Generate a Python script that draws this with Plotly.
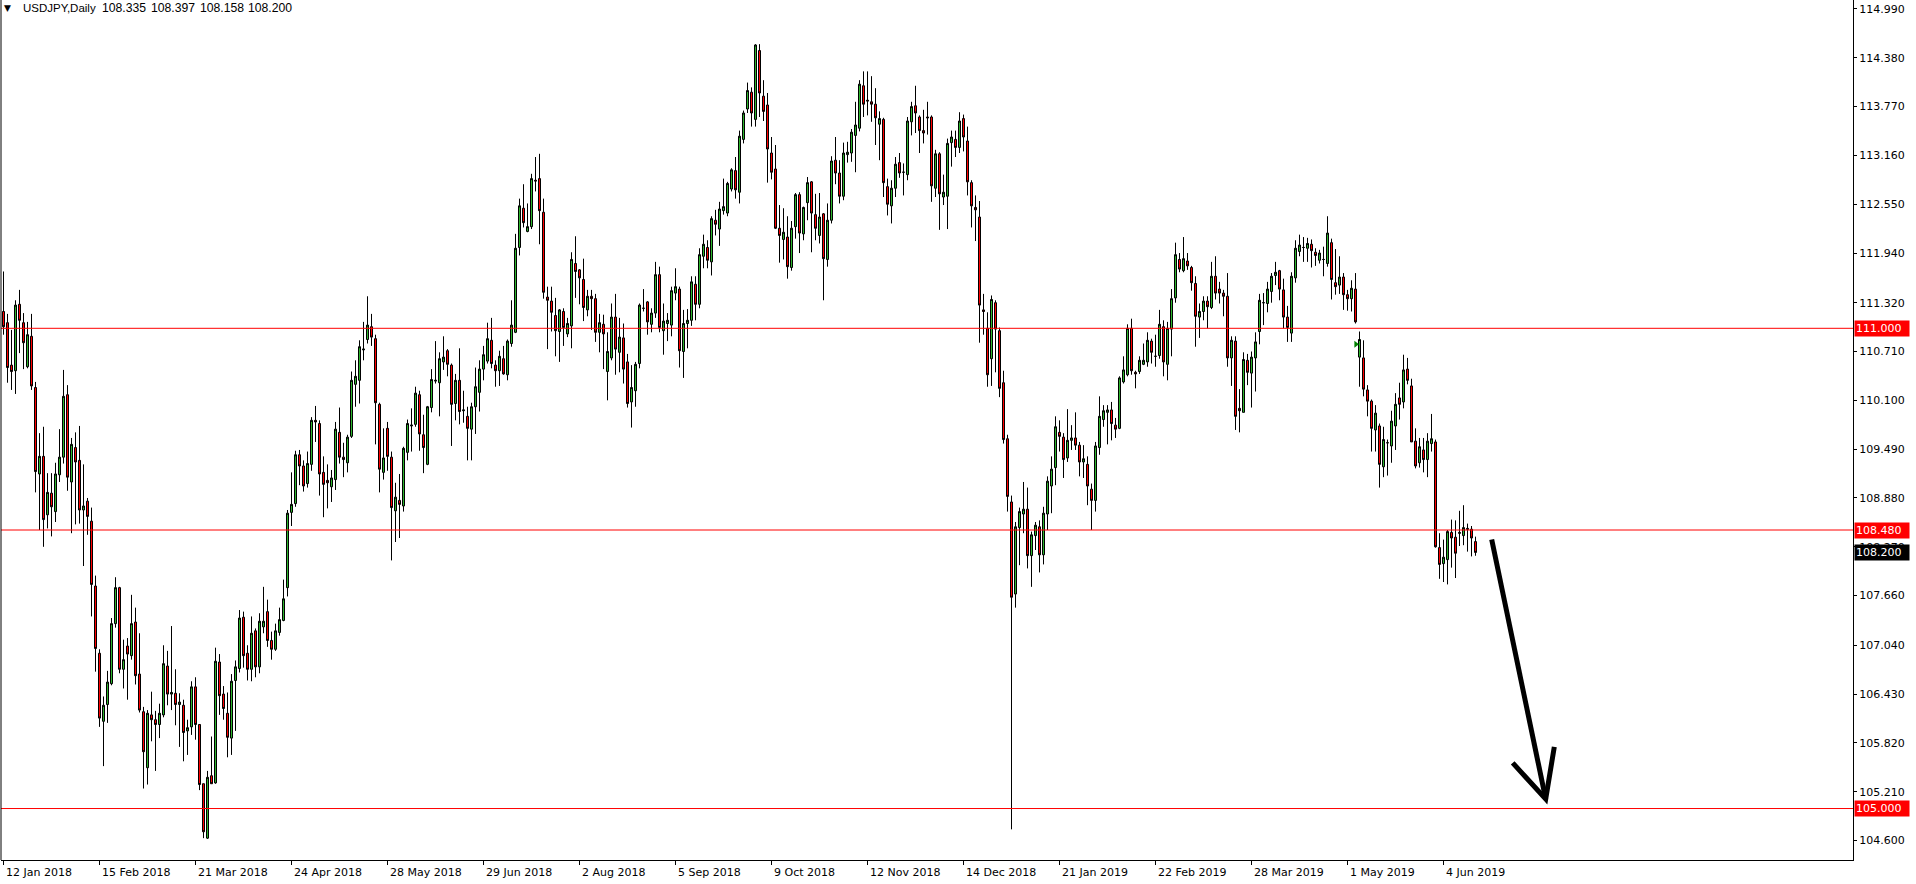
import plotly.graph_objects as go

# ---------------- data (USDJPY daily, bar index 0 = 12 Jan 2018) ----------------
O = [111.21,111.07,110.54,110.47,111.30,111.07,110.52,110.90,110.26,109.18,
     109.40,108.67,108.94,108.71,109.17,109.39,110.17,109.08,109.51,109.35,
     108.73,108.84,108.59,107.78,106.94,106.09,106.30,106.56,107.31,107.76,
     106.74,107.03,106.91,107.33,106.68,106.21,105.51,106.17,106.11,106.05,
     106.17,106.78,106.43,106.44,106.30,106.29,105.97,106.02,106.52,106.05,
     105.31,104.63,105.41,105.32,106.83,106.43,106.19,105.88,106.60,106.75,
     107.39,106.94,106.74,107.22,106.77,107.27,107.46,107.10,106.99,107.20,
     107.35,107.76,108.70,108.81,109.42,109.28,109.06,109.30,109.85,109.81,
     109.20,109.10,109.02,109.11,109.70,109.39,109.32,109.65,110.30,110.35,
     110.73,110.86,111.02,110.87,110.05,109.20,109.75,109.39,108.72,108.85,
     108.78,109.45,109.78,109.80,110.17,109.67,109.30,110.01,110.34,110.32,
     110.58,110.72,110.54,110.06,110.35,109.97,109.90,109.74,110.02,110.20,
     110.49,110.59,110.85,110.54,110.47,110.62,110.42,110.81,110.95,112.01,
     112.50,112.21,112.27,112.85,112.87,112.45,111.39,111.34,111.16,110.96,
     111.21,110.93,111.03,111.81,111.73,111.61,111.23,111.40,111.37,110.95,
     111.05,110.46,110.63,111.14,110.70,110.88,110.58,110.08,110.22,110.56,
     111.25,111.33,111.05,111.19,111.67,110.97,111.06,111.04,111.44,111.49,
     110.71,111.06,111.10,111.55,111.30,111.90,112.01,111.83,112.35,112.24,
     112.47,112.44,112.74,112.97,112.70,113.36,113.74,113.95,113.61,114.47,
     113.90,113.79,113.19,112.99,112.25,112.11,112.14,111.76,112.27,112.67,
     112.18,112.57,112.83,112.42,112.16,112.43,111.86,112.35,113.10,112.94,
     112.65,113.17,113.19,113.41,113.50,114.03,113.85,113.83,113.80,113.55,
     113.61,112.77,112.53,112.75,113.07,112.95,112.92,113.58,113.78,113.64,
     113.47,113.64,113.64,112.75,113.18,112.64,112.65,113.32,113.36,113.26,
     113.62,113.34,112.82,112.51,112.39,111.23,111.00,110.62,111.32,110.97,
     110.32,109.62,108.83,107.68,108.51,108.68,108.74,108.16,108.41,108.52,
     108.17,108.68,109.03,109.26,109.70,109.64,109.38,109.60,109.63,109.54,
     109.33,109.30,108.99,108.85,109.51,109.86,109.95,109.98,109.79,109.75,
     110.33,110.42,111.00,110.45,110.46,110.55,110.58,110.84,110.65,110.66,
     111.02,110.55,110.99,111.38,111.86,111.72,111.84,111.76,111.56,111.14,
     111.21,111.34,111.26,111.65,111.49,111.44,111.40,110.63,110.84,110.00,
     109.95,110.60,110.44,110.63,110.96,111.32,111.31,111.46,111.66,111.72,
     111.48,111.14,110.94,111.63,111.96,112.01,112.00,112.05,111.95,111.85,
     111.86,111.81,112.07,111.57,111.54,111.64,111.42,111.37,111.49,110.64,
     110.63,110.23,110.09,109.73,109.78,109.27,109.57,109.53,109.78,110.13,
     110.08,110.49,110.28,109.59,109.32,109.48,109.36,109.56,109.58,108.26,
     108.06,108.11,108.45,108.39,108.45,108.41,108.50,108.49,108.335]

H = [111.71,111.18,110.98,111.35,111.48,111.19,111.08,111.18,110.33,109.69,
     109.77,109.19,109.19,109.32,109.74,110.48,110.29,109.63,109.70,109.78,
     109.30,108.88,108.76,107.91,106.99,106.40,106.72,107.38,107.89,107.77,
     107.11,107.13,107.67,107.51,107.19,106.27,106.23,106.46,106.22,106.31,
     107.04,106.97,107.28,106.74,106.44,106.36,106.11,106.59,106.64,106.05,
     105.31,105.47,105.90,107.01,106.93,106.53,106.45,106.68,106.85,107.48,
     107.46,107.04,107.40,107.25,107.44,107.77,107.61,107.21,107.31,107.51,
     107.86,108.73,109.20,109.47,109.48,109.35,109.46,109.89,110.03,109.85,
     109.40,109.30,109.23,109.83,110.01,109.57,109.67,110.46,110.60,110.85,
     111.08,111.40,111.18,110.92,110.07,109.75,109.83,109.46,109.07,109.18,
     109.52,109.86,110.00,110.27,110.22,109.92,110.03,110.49,110.84,110.70,
     110.90,110.74,110.56,110.43,110.75,110.22,110.02,110.07,110.51,110.60,
     110.78,111.07,111.13,110.60,110.72,110.78,110.86,111.35,112.18,112.62,
     112.80,112.56,112.93,113.14,113.18,112.62,111.52,111.52,111.38,111.24,
     111.25,111.13,111.95,112.15,111.74,111.87,111.48,111.48,111.43,111.18,
     111.17,110.95,111.31,111.43,111.13,111.06,110.68,110.54,110.58,111.31,
     111.49,111.34,111.25,111.83,111.77,111.31,111.19,111.52,111.75,111.52,
     111.23,111.24,111.65,111.65,112.00,112.17,112.10,112.40,112.48,112.58,
     112.87,112.83,113.00,113.14,113.47,113.72,114.07,114.01,114.55,114.55,
     114.10,113.94,113.39,113.29,112.54,112.50,112.40,112.34,112.69,112.70,
     112.52,112.89,112.84,112.68,112.69,112.44,112.56,113.15,113.39,113.10,
     113.32,113.33,113.49,113.83,114.10,114.21,114.21,114.15,114.00,113.71,
     113.63,112.87,112.85,113.14,113.19,113.06,113.64,113.83,114.03,113.66,
     113.73,113.83,113.66,113.23,113.20,112.92,113.37,113.47,113.47,113.70,
     113.67,113.52,112.85,112.66,112.59,111.43,111.20,111.41,111.35,111.01,
     110.47,109.67,108.91,108.58,108.76,109.08,109.01,108.46,108.58,108.60,
     108.77,109.15,109.40,109.90,109.85,109.69,109.99,109.79,109.95,109.58,
     109.54,109.40,109.06,109.58,110.15,110.04,110.04,110.08,109.88,110.40,
     110.65,111.05,111.12,110.47,110.65,110.81,110.95,110.87,110.92,111.23,
     111.10,111.08,111.49,112.07,111.94,112.14,111.94,111.78,111.65,111.31,
     111.40,111.40,111.83,111.90,111.58,111.48,111.69,110.90,110.90,110.24,
     110.70,110.68,110.71,110.95,111.43,111.44,111.58,111.69,111.83,111.73,
     111.62,111.28,111.70,112.10,112.17,112.14,112.13,112.11,112.00,111.98,
     112.02,112.40,112.12,111.99,111.90,111.69,111.48,111.60,111.69,110.96,
     110.85,110.29,110.11,110.04,109.81,109.77,109.61,109.97,110.19,110.32,
     110.67,110.63,110.37,109.75,109.63,109.63,109.69,109.93,109.61,108.44,
     108.36,108.48,108.61,108.60,108.72,108.79,108.56,108.53,108.397]

L = [110.92,110.32,110.23,110.18,110.69,110.49,110.50,110.23,108.95,108.48,
     108.27,108.50,108.40,108.58,109.08,109.31,108.97,108.44,108.55,108.56,
     108.03,108.42,107.40,106.71,106.02,105.53,106.07,106.54,107.26,106.69,
     106.50,106.36,106.86,106.55,106.20,105.25,105.30,105.84,105.47,105.88,
     106.14,106.29,106.23,106.04,105.77,105.59,105.67,105.92,105.86,105.23,
     104.63,104.62,105.31,105.31,106.17,106.11,105.64,105.67,105.97,106.70,
     106.76,106.60,106.59,106.64,106.69,107.19,107.02,106.86,106.97,107.16,
     107.34,107.65,108.53,108.77,109.04,108.96,109.01,109.22,109.58,108.91,
     108.64,108.75,108.83,108.98,109.31,109.14,109.20,109.63,110.02,110.06,
     110.60,110.81,110.78,109.55,108.95,109.11,109.22,108.10,108.33,108.38,
     108.71,109.35,109.46,109.77,109.47,109.19,109.29,109.95,110.31,109.90,
     110.48,110.40,109.53,109.85,109.80,109.82,109.35,109.35,109.68,109.96,
     110.35,110.56,110.50,110.27,110.28,110.42,110.35,110.77,110.94,111.91,
     112.26,112.20,112.24,112.71,112.05,111.37,110.74,110.96,110.65,110.58,
     110.78,110.89,110.75,111.38,111.30,111.09,111.15,110.98,110.83,110.70,
     110.49,110.10,110.60,110.42,110.45,110.31,110.01,109.76,110.02,110.50,
     111.21,110.92,110.95,111.13,110.95,110.67,110.84,110.90,111.35,110.51,
     110.38,110.75,111.03,111.10,111.25,111.75,111.75,111.66,112.16,112.03,
     112.42,112.40,112.71,112.62,112.56,113.31,113.69,113.52,113.52,113.64,
     113.59,112.82,112.86,112.24,111.82,111.86,111.62,111.72,112.12,111.94,
     112.10,112.35,111.95,112.10,112.06,111.35,111.77,112.31,112.80,112.56,
     112.60,113.07,113.08,112.95,113.46,113.64,113.66,113.58,113.29,113.10,
     112.64,112.41,112.31,112.64,112.88,112.66,112.85,113.41,113.44,113.19,
     113.31,113.42,112.58,112.64,112.23,112.54,112.24,113.02,113.14,113.19,
     113.21,112.66,112.26,112.09,110.82,110.92,110.27,110.28,110.45,110.14,
     109.56,108.71,104.74,107.51,108.04,108.44,108.00,107.77,108.23,107.95,
     108.05,108.48,108.69,109.04,109.46,109.13,109.33,109.48,109.48,109.15,
     109.13,108.79,108.48,108.71,109.42,109.77,109.55,109.60,109.63,109.74,
     110.31,110.40,110.42,110.25,110.43,110.54,110.52,110.56,110.52,110.62,
     110.40,110.35,110.65,111.32,111.70,111.70,111.73,111.47,110.77,110.88,
     111.10,111.00,111.24,111.36,111.31,111.15,110.52,110.28,109.73,109.70,
     109.95,110.29,110.01,110.21,110.80,111.04,111.20,111.32,111.54,111.35,
     111.00,110.83,110.83,111.57,111.90,111.83,111.83,111.76,111.78,111.81,
     111.65,111.77,111.36,111.42,111.43,111.23,111.22,111.21,111.06,110.27,
     110.15,109.90,109.46,109.46,109.01,109.14,109.16,109.32,109.48,109.86,
     110.00,110.30,109.58,109.25,109.26,109.20,109.14,109.46,108.26,107.87,
     107.83,107.80,108.01,107.88,108.28,108.29,108.21,108.15,108.158]

C = [111.02,110.51,110.46,111.29,111.10,110.82,110.92,110.28,109.21,109.40,
     108.61,108.95,108.77,109.18,109.39,110.15,109.14,109.55,109.33,108.73,
     108.78,108.65,107.80,107.00,106.13,106.29,106.58,107.31,107.76,106.74,
     106.86,106.93,107.31,106.66,106.23,105.71,106.19,106.11,106.05,106.19,
     106.81,106.43,106.45,106.30,106.33,105.95,106.01,106.52,106.05,105.30,
     104.71,105.39,105.31,106.84,106.41,106.25,105.89,106.59,106.77,107.38,
     106.91,106.74,107.19,106.77,107.34,107.34,107.10,106.99,107.22,107.36,
     107.62,108.69,108.80,109.42,109.28,109.03,109.31,109.85,109.83,109.18,
     109.05,109.07,109.13,109.74,109.39,109.36,109.64,110.35,110.40,110.77,
     110.74,111.04,110.89,110.07,109.24,109.38,109.40,108.76,108.89,108.80,
     109.50,109.81,109.79,110.19,109.68,109.51,110.02,110.36,110.35,110.62,
     110.64,110.55,110.05,110.35,109.96,109.98,109.75,110.02,110.27,110.49,
     110.67,110.87,110.56,110.47,110.65,110.43,110.84,111.04,112.00,112.53,
     112.32,112.27,112.87,112.84,112.47,111.45,111.35,111.20,110.97,111.23,
     111.01,111.06,111.86,111.71,111.63,111.26,111.40,111.37,110.95,111.07,
     110.93,110.71,111.14,110.74,110.89,110.49,110.06,110.26,110.55,111.29,
     111.25,111.08,111.19,111.67,111.01,111.09,111.10,111.47,111.52,110.72,
     111.06,111.10,111.58,111.30,111.92,112.05,111.85,112.37,112.30,112.49,
     112.52,112.81,112.98,112.73,113.40,113.69,113.97,113.69,114.54,113.94,
     113.71,113.24,112.95,112.25,112.16,112.20,111.77,112.25,112.67,112.19,
     112.51,112.82,112.44,112.25,112.39,111.87,112.35,113.09,112.94,112.65,
     113.19,113.20,113.45,113.54,114.05,113.80,113.84,113.80,113.63,113.62,
     112.82,112.55,112.75,113.05,112.94,112.95,113.59,113.77,113.69,113.47,
     113.44,113.63,112.78,113.18,112.68,112.70,113.31,113.39,113.26,113.59,
     113.39,112.83,112.53,112.48,111.29,111.21,110.42,111.36,110.99,110.25,
     109.61,108.90,107.64,108.52,108.71,108.74,108.16,108.42,108.54,108.17,
     108.69,109.09,109.24,109.77,109.65,109.36,109.60,109.63,109.54,109.33,
     109.37,109.03,108.85,109.53,109.90,109.97,109.98,109.81,109.74,110.38,
     110.48,111.00,110.47,110.43,110.60,110.60,110.85,110.70,110.65,111.05,
     110.58,111.00,111.37,111.92,111.74,111.87,111.78,111.57,111.15,111.21,
     111.34,111.27,111.65,111.44,111.44,111.40,110.63,110.85,109.90,109.97,
     110.61,110.45,110.64,110.83,111.35,111.32,111.49,111.65,111.70,111.49,
     111.14,111.01,111.65,112.00,112.04,112.01,112.06,111.97,111.91,111.94,
     111.86,112.19,111.61,111.52,111.64,111.42,111.37,111.50,111.08,110.86,
     110.24,110.09,109.75,109.94,109.30,109.61,109.57,109.84,110.05,110.05,
     110.48,110.35,109.58,109.28,109.52,109.36,109.59,109.62,108.27,108.05,
     108.14,108.46,108.38,108.19,108.44,108.51,108.49,108.38,108.200]

date_tick_bars = [0, 24, 48, 72, 96, 120, 144, 168, 192, 216, 240, 264, 288, 312, 336, 360]
date_tick_labels = ["12 Jan 2018", "15 Feb 2018", "21 Mar 2018", "24 Apr 2018", "28 May 2018",
                    "29 Jun 2018", "2 Aug 2018", "5 Sep 2018", "9 Oct 2018", "12 Nov 2018",
                    "14 Dec 2018", "21 Jan 2019", "22 Feb 2019", "28 Mar 2019", "1 May 2019",
                    "4 Jun 2019"]
price_ticks = [114.990, 114.380, 113.770, 113.160, 112.550, 111.940, 111.320, 110.710, 110.100,
               109.490, 108.880, 108.270, 107.660, 107.040, 106.430, 105.820, 105.210, 104.600]
level_prices = [111.000, 108.480, 105.000]
current_price = 108.200
header_text = "USDJPY,Daily"
trade_mark_x = [338.1]
trade_mark_y = [110.80]
# projected move arrow: (bar, price) points
arrow_shaft = [(372.05, 108.36), (385.55, 105.12)]
arrow_head = [(377.3, 105.57), (385.55, 105.12), (387.7, 105.77)]

# ---------------- figure ----------------
FONT = "DejaVu Sans"
HFONT = "Liberation Sans"
bars = list(range(len(O)))
fig = go.Figure()
fig.add_trace(go.Candlestick(
    x=bars, open=O, high=H, low=L, close=C,
    increasing=dict(line=dict(color="black", width=1), fillcolor="#2DB52D"),
    decreasing=dict(line=dict(color="black", width=1), fillcolor="#FF0000"),
    whiskerwidth=0, hoverinfo="skip", showlegend=False))
fig.add_trace(go.Scatter(x=trade_mark_x, y=trade_mark_y, mode="markers",
                         marker=dict(symbol="triangle-right", size=6, color="#008000"),
                         hoverinfo="skip", showlegend=False))

W, Hh = 1916, 884
ML, MR, MT, MB = 1, 63, 0, 24
plot_w = W - ML - MR
x0 = -0.625
x1 = x0 + plot_w / 4.0

shapes = []
for p in level_prices:
    shapes.append(dict(type="line", xref="paper", x0=0, x1=1, yref="y", y0=p, y1=p,
                       line=dict(color="#FF0000", width=1), layer="above"))
shapes.append(dict(type="line", xref="paper", x0=0, x1=0, yref="paper", y0=0, y1=1,
                   line=dict(color="black", width=1)))
shaft = "M {},{} L {},{}".format(arrow_shaft[0][0], arrow_shaft[0][1], arrow_shaft[1][0], arrow_shaft[1][1])
head = "M {},{} L {},{} L {},{}".format(*[v for pt in arrow_head for v in pt])
for pth in (shaft, head):
    shapes.append(dict(type="path", xref="x", yref="y", path=pth,
                       line=dict(color="black", width=5)))

annotations = []
for b, t in zip(date_tick_bars, date_tick_labels):
    annotations.append(dict(x=b, xref="x", y=0, yref="paper", yanchor="top", xanchor="left",
                            yshift=-4, xshift=0, text=t, showarrow=False,
                            font=dict(family=FONT, size=11, color="black")))
for p in level_prices:
    annotations.append(dict(x=1, xref="paper", xanchor="left", xshift=1, y=p, yref="y",
                            yanchor="middle", text="{:.3f}".format(p), showarrow=False,
                            bgcolor="#FF0000", borderpad=1, width=52, align="left",
                            font=dict(family=FONT, size=11, color="white")))
annotations.append(dict(x=1, xref="paper", xanchor="left", xshift=1, y=current_price, yref="y",
                        yanchor="middle", text="{:.3f}".format(current_price), showarrow=False,
                        bgcolor="black", borderpad=1, width=52, align="left",
                        font=dict(family=FONT, size=11, color="white")))

# header: triangle, symbol/period, then last bar O H L C, each at MT4-like spacing
header_items = [("\u25BC", 1, 9, FONT), (header_text, 20, 11.5, HFONT)]
last_bar = ["{:.3f}".format(v) for v in (O[-1], H[-1], L[-1], C[-1])]
for i, s in enumerate(last_bar):
    header_items.append((s, 99 + i * 48.75, 12.2, HFONT))
for txt, xs, sz, fam in header_items:
    annotations.append(dict(x=0, xref="paper", y=1, yref="paper", xanchor="left",
                            yanchor="middle", xshift=xs, yshift=-8, showarrow=False,
                            text=txt, font=dict(family=fam, size=sz, color="black")))

fig.update_layout(
    width=W, height=Hh,
    margin=dict(l=ML, r=MR, t=MT, b=MB, pad=0),
    paper_bgcolor="white", plot_bgcolor="white",
    boxgap=0.5, boxgroupgap=0, showlegend=False,
    shapes=shapes, annotations=annotations,
    xaxis=dict(range=[x0, x1], showgrid=False, zeroline=False, showline=True,
               linecolor="black", linewidth=1, ticks="outside", ticklen=4,
               tickcolor="black", tickvals=date_tick_bars, showticklabels=False,
               rangeslider=dict(visible=False), fixedrange=True),
    yaxis=dict(side="right", range=[104.357, 115.1017], showgrid=False, zeroline=False,
               showline=True, linecolor="black", linewidth=1, ticks="outside", ticklen=3,
               tickcolor="black", tickvals=price_ticks,
               ticktext=["{:.3f}".format(v) for v in price_ticks],
               tickfont=dict(family=FONT, size=11, color="black"), fixedrange=True),
)

fig.write_html("out.html", config={"displayModeBar": False},
               post_script="document.body.style.margin='0';document.body.style.overflow='hidden';")
